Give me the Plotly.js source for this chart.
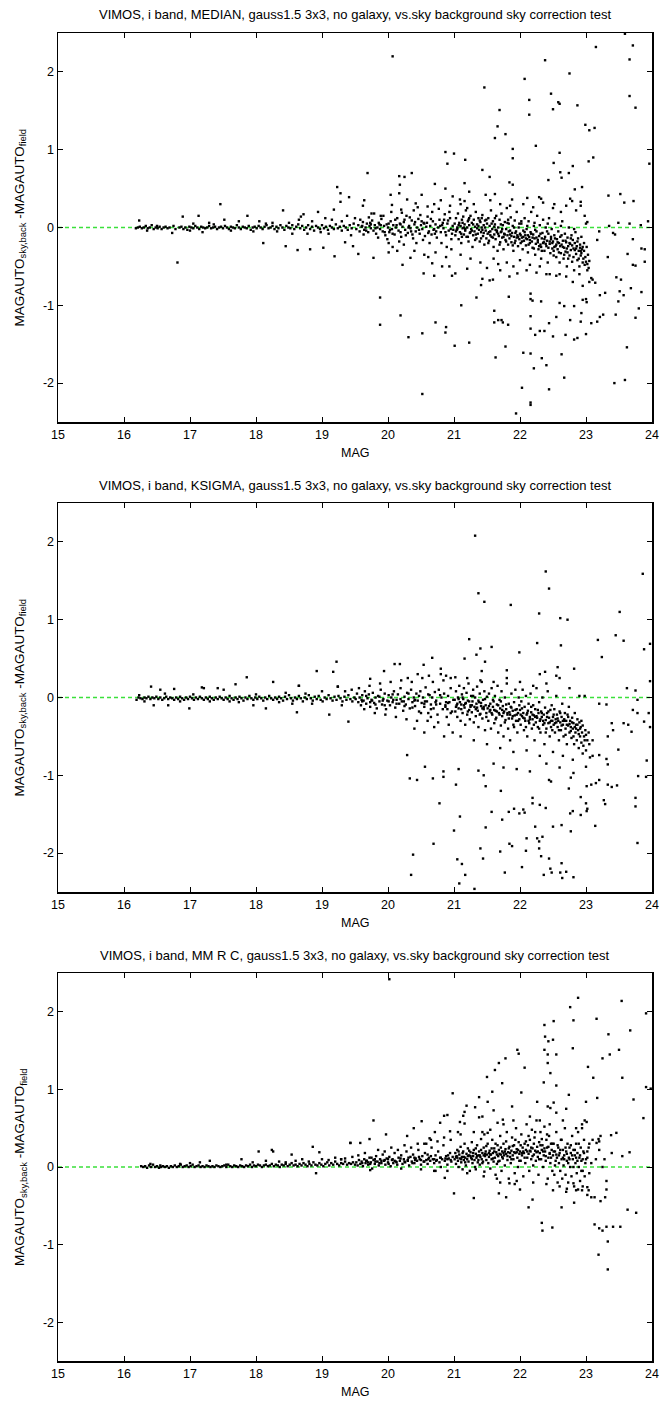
<!DOCTYPE html>
<html><head><meta charset="utf-8">
<script src="https://cdn.plot.ly/plotly-3.0.1.min.js"></script>
<style>html,body{margin:0;padding:0;background:#fff}#c{width:662px;height:1401px}</style>
</head><body><div id="c"></div>
<script>
// ---------- data: [MAG, MAGAUTO_sky,back - MAGAUTO_field] ----------
const titles = [
  "VIMOS, i band, MEDIAN, gauss1.5 3x3, no galaxy, vs.sky background sky correction test",
  "VIMOS, i band, KSIGMA, gauss1.5 3x3, no galaxy, vs.sky background sky correction test",
  "VIMOS, i band, MM R C, gauss1.5 3x3, no galaxy, vs.sky background sky correction test"
];
const xTickVals = [15,16,17,18,19,20,21,22,23,24];
const yTickVals = [-2,-1,0,1,2];
const yTickText = ["-2","-1","0","1","2"];

// ----- panel 1: MEDIAN -----
const median_bright = [[16.18,-0.01],[16.21,0.0],[16.24,0.01],[16.27,-0.01],[16.3,0.0],[16.33,0.02],[16.36,-0.01],[16.39,0.0],[16.42,0.03],[16.45,-0.02],[16.48,0.0],[16.51,-0.01],[16.54,0.01],[16.57,-0.02],[16.6,0.0],[16.63,0.01],[16.66,-0.01],[16.69,0.0],[16.75,0.02],[16.78,-0.02],[16.84,0.0],[16.87,0.01],[16.9,-0.02],[16.93,0.0],[16.96,-0.03],[16.99,0.01],[17.02,0.0],[17.05,-0.01],[17.08,0.02],[17.11,0.0],[17.14,-0.02],[17.17,0.01],[17.2,0.0],[17.23,-0.01],[17.26,0.0],[17.29,0.02],[17.32,-0.01],[17.35,0.0],[17.38,0.01],[17.41,-0.02],[17.44,0.0],[17.47,0.01],[17.5,-0.01],[17.53,0.02],[17.56,0.0],[17.59,-0.02],[17.62,0.01],[17.65,0.0],[17.68,-0.01],[17.71,0.03],[17.74,0.0],[17.77,-0.02],[17.8,0.01],[17.83,0.0],[17.86,-0.01],[17.89,0.02],[17.92,-0.03],[17.95,0.0],[17.98,0.01],[18.01,-0.01],[18.04,0.02],[18.07,0.0],[18.1,-0.02],[18.13,0.01],[18.16,0.03],[18.19,-0.01],[18.22,0.0],[18.25,0.02],[18.28,-0.02],[18.31,0.01],[18.34,-0.01],[18.37,0.03],[18.4,0.0],[18.43,-0.03],[18.46,0.02],[18.49,0.0],[18.52,-0.01],[18.55,0.03],[18.58,-0.02],[18.61,0.01],[18.64,0.04],[18.67,-0.01],[18.7,0.02],[18.73,-0.03],[18.76,0.0],[18.79,0.03],[18.82,-0.02],[18.85,0.01],[18.88,-0.04],[18.91,0.02],[18.94,0.0],[18.97,-0.02],[19.0,0.03],[19.03,-0.01],[19.06,0.01],[19.09,-0.03],[19.12,0.02],[19.15,0.0],[19.18,-0.02],[19.21,0.04],[19.24,-0.01],[19.27,0.01],[19.3,-0.04],[19.33,0.02],[19.36,0.0],[19.39,-0.03],[19.42,0.03],[19.45,-0.01],[19.48,0.05],
[16.23,0.09],[16.35,-0.04],[16.5,0.02],[16.73,-0.07],[16.89,0.14],[17.0,-0.04],[17.05,0.05],[17.13,0.15],[17.19,-0.06],[17.29,0.06],[17.36,0.04],[17.52,0.1],[17.62,-0.04],[17.74,0.08],[17.87,0.15],[17.96,-0.05],[18.05,0.08],[18.15,0.05],[18.25,0.06],[18.32,-0.05],[18.5,0.06],[18.55,-0.08],[18.65,0.1],[18.68,0.14],[18.72,0.17],[18.78,-0.08],[18.85,0.08],[18.98,-0.06],[19.05,0.12],[19.1,-0.08],[19.15,0.1],[19.3,0.08],[19.38,0.15],[19.44,-0.1],[19.5,0.12]];
const median_mid = [[19.52,-0.02],[19.55,0.03],[19.57,-0.05],[19.6,0.01],[19.62,0.07],[19.64,-0.03],[19.66,0.0],[19.68,0.05],[19.7,-0.06],[19.72,0.02],[19.74,-0.01],[19.76,0.09],[19.78,-0.04],[19.8,0.03],[19.82,-0.08],[19.84,0.0],[19.86,0.06],[19.88,-0.02],[19.9,0.11],[19.92,-0.05],[19.94,0.02],[19.96,-0.1],[19.98,0.04],[20.0,0.0],[20.02,-0.06],[20.04,0.08],[20.06,-0.02],[20.08,0.03],[20.1,-0.09],[20.12,0.0],[20.14,0.12],[20.16,-0.04],[20.18,0.05],[20.2,-0.12],[20.22,0.01],[20.24,0.07],[20.26,-0.03],[20.28,0.15],[20.3,-0.07],[20.32,0.02],[20.34,-0.01],[20.36,0.09],[20.38,-0.14],[20.4,0.04],[20.42,-0.05],[20.44,0.0],[20.46,0.11],[20.48,-0.08],[20.5,0.03],[20.52,-0.02],[20.54,0.06],[20.56,-0.11],[20.58,0.01],[20.6,0.14],[20.62,-0.05],[20.64,0.02],[20.66,-0.09],[20.68,0.08],[20.7,-0.02],[20.72,0.04],[20.74,-0.13],[20.76,0.0],[20.78,0.1],[20.8,-0.06],[20.82,0.03],[20.84,-0.01],[20.86,0.17],[20.88,-0.1],[20.9,0.05],[20.92,-0.04],[20.94,0.12],[20.96,-0.15],[20.98,0.02],
[19.58,0.1],[19.63,-0.09],[19.71,0.13],[19.79,0.18],[19.85,-0.13],[19.93,0.15],[19.99,-0.15],[20.05,0.2],[20.11,0.1],[20.17,-0.18],[20.21,0.19],[20.27,-0.1],[20.33,0.13],[20.39,0.22],[20.43,-0.2],[20.49,0.16],[20.53,-0.16],[20.59,0.06],[20.63,-0.2],[20.67,0.2],[20.71,-0.08],[20.77,0.24],[20.81,-0.2],[20.85,0.1],[20.89,-0.25],[20.93,0.2],[20.97,-0.08],[19.74,0.04],[19.89,0.03],[20.03,-0.03],[20.19,0.04],[20.35,-0.05],[20.51,0.08],[20.69,-0.03],[20.83,0.06],[20.99,-0.03],
[20.06,0.29],[20.2,0.23],[20.45,0.26],[20.6,0.27],[20.7,0.3],[20.8,0.35],[20.94,0.28],[19.62,0.28],[19.75,0.18],[19.89,0.15],[20.01,-0.2],[20.14,-0.3],[20.24,-0.22],[20.4,-0.3],[20.55,-0.35],[20.72,-0.32],[20.88,-0.38],[20.96,-0.28],
[19.61,0.02],[19.67,-0.04],[19.73,0.06],[19.81,-0.01],[19.87,0.04],[19.95,-0.06],[20.01,0.05],[20.07,-0.08],[20.13,0.03],[20.19,-0.06],[20.25,0.1],[20.31,0.0],[20.37,-0.09],[20.41,0.07],[20.47,-0.03],[20.55,0.05],[20.61,-0.07],[20.65,0.11],[20.73,-0.05],[20.79,0.02],[20.87,-0.06],[20.91,0.09],[20.95,-0.02]];
const median_faint = [[21.01,0.05],[21.02,-0.1],[21.03,0.12],[21.04,-0.03],[21.05,0.0],[21.06,0.18],[21.07,-0.15],[21.08,0.06],[21.09,-0.06],[21.1,0.02],[21.11,-0.2],[21.12,0.1],[21.13,-0.01],[21.14,0.14],[21.15,-0.09],[21.16,0.04],[21.17,-0.04],[21.18,0.22],[21.19,-0.12],[21.2,0.0],[21.21,0.08],[21.22,-0.18],[21.23,0.03],[21.24,-0.07],[21.25,0.15],[21.26,-0.02],[21.27,0.06],[21.28,-0.25],[21.29,-0.1],[21.3,0.1],[21.31,-0.05],[21.32,0.01],[21.33,0.2],[21.34,-0.14],[21.35,0.04],[21.36,-0.08],[21.37,0.12],[21.38,-0.03],[21.39,-0.18],[21.4,0.07],[21.41,-0.06],[21.42,0.0],[21.43,0.16],[21.44,-0.11],[21.45,0.03],[21.46,-0.22],[21.47,0.09],[21.48,-0.04],[21.49,-0.14],[21.5,0.05],
[21.51,-0.08],[21.52,0.12],[21.53,-0.17],[21.54,0.02],[21.55,-0.05],[21.56,0.22],[21.57,-0.12],[21.58,-0.02],[21.59,0.08],[21.6,-0.25],[21.61,-0.09],[21.62,0.04],[21.63,-0.15],[21.64,0.15],[21.65,-0.04],[21.66,-0.3],[21.67,0.0],[21.68,-0.11],[21.69,0.1],[21.7,-0.19],[21.71,-0.06],[21.72,0.18],[21.73,-0.13],[21.74,0.03],[21.75,-0.28],[21.76,-0.08],[21.77,0.07],[21.78,-0.16],[21.79,-0.02],[21.8,0.25],[21.81,-0.1],[21.82,-0.22],[21.83,0.05],[21.84,-0.14],[21.85,-0.04],[21.86,0.13],[21.87,-0.19],[21.88,-0.07],[21.89,0.02],[21.9,-0.3],[21.91,-0.12],[21.92,0.09],[21.93,-0.17],[21.94,-0.05],[21.95,0.2],[21.96,-0.1],[21.97,-0.24],[21.98,0.0],[21.99,-0.15],
[22.0,-0.08],[22.01,-0.2],[22.02,0.05],[22.03,-0.13],[22.04,-0.28],[22.05,-0.04],[22.06,-0.17],[22.07,0.12],[22.08,-0.1],[22.09,-0.23],[22.1,-0.02],[22.11,-0.15],[22.12,-0.32],[22.13,0.08],[22.14,-0.12],[22.15,-0.2],[22.16,-0.06],[22.17,0.2],[22.18,-0.18],[22.19,-0.26],[22.2,-0.09],[22.21,0.02],[22.22,-0.14],[22.23,-0.35],[22.24,-0.21],[22.25,-0.05],[22.26,0.15],[22.27,-0.16],[22.28,-0.28],[22.29,-0.11],[22.3,0.03],[22.31,-0.22],[22.32,-0.4],[22.33,-0.14],[22.34,-0.07],[22.35,0.1],[22.36,-0.19],[22.37,-0.3],[22.38,-0.12],[22.39,0.0],[22.4,-0.24],[22.41,-0.17],[22.42,-0.45],[22.43,-0.08],[22.44,0.12],[22.45,-0.21],[22.46,-0.33],[22.47,-0.15],[22.48,-0.02],[22.49,-0.27],
[22.5,-0.18],[22.51,-0.3],[22.52,-0.1],[22.53,0.05],[22.54,-0.24],[22.55,-0.38],[22.56,-0.15],[22.57,-0.28],[22.58,-0.05],[22.59,-0.2],[22.6,-0.45],[22.61,-0.12],[22.62,-0.33],[22.63,-0.22],[22.64,0.08],[22.65,-0.17],[22.66,-0.4],[22.67,-0.26],[22.68,-0.08],[22.69,-0.31],[22.7,-0.19],[22.71,-0.5],[22.72,-0.13],[22.73,-0.24],[22.74,0.0],[22.75,-0.36],[22.76,-0.21],[22.77,-0.29],[22.78,-0.1],[22.79,-0.44],[22.8,-0.16],[22.81,-0.27],[22.82,-0.55],[22.83,-0.2],[22.84,-0.06],[22.85,-0.34],[22.86,-0.24],[22.87,-0.42],[22.88,-0.14],[22.89,-0.3],[22.9,-0.5],[22.91,-0.22],[22.92,-0.36],[22.93,-0.12],[22.94,-0.28],[22.95,-0.45],[22.96,-0.4],[22.97,-0.2],[22.98,-0.48],[23.0,-0.44],[23.02,-0.47],[23.05,-0.43],
[21.05,-0.02],[21.15,0.0],[21.25,-0.06],[21.35,-0.01],[21.45,-0.07],[21.55,-0.1],[21.65,-0.06],[21.75,-0.12],[21.85,-0.09],[21.95,-0.13],[22.05,-0.12],[22.15,-0.16],[22.25,-0.13],[22.35,-0.2],[22.45,-0.18],[22.55,-0.22],[22.65,-0.25],[22.75,-0.2],[22.85,-0.27],[22.95,-0.25],
[21.12,-0.12],[21.32,-0.16],[21.52,-0.2],[21.72,-0.05],[21.92,-0.2],[22.12,-0.1],[22.32,-0.25],[22.52,-0.25],[22.72,-0.32],[22.92,-0.3],
[21.22,0.1],[21.42,0.12],[21.62,0.12],[21.82,0.1],[22.02,0.08],[22.22,0.06],[22.42,0.05],[22.62,0.02],[22.82,-0.02],
[21.1,0.3],[21.2,0.25],[21.3,0.3],[21.55,0.35],[21.7,0.3],[21.85,0.28],[22.05,0.3],[22.2,0.26],[22.35,0.32],[22.5,0.25],[22.62,0.2],[22.7,0.28],[22.85,0.22],[22.98,0.15],[23.0,0.05],
[21.1,-0.35],[21.25,-0.4],[21.4,-0.45],[21.5,-0.52],[21.6,-0.4],[21.7,-0.55],[21.8,-0.45],[21.9,-0.5],[22.0,-0.42],[22.1,-0.55],[22.15,-0.48],[22.25,-0.58],[22.3,-0.5],[22.4,-0.6],[22.45,-0.6],[22.55,-0.62],[22.6,-0.6],[22.7,-0.63],[22.8,-0.7],[22.9,-0.6],[22.95,-0.75],[23.02,-0.55],[23.05,-0.7],[23.08,-0.65],
[21.03,-0.05],[21.07,0.03],[21.11,-0.08],[21.13,0.06],[21.17,-0.02],[21.21,-0.12],[21.23,0.12],[21.27,-0.04],[21.29,0.04],[21.33,-0.09],[21.37,0.02],[21.39,0.09],[21.41,-0.14],[21.43,-0.03],[21.47,0.0],[21.49,0.1],[21.53,-0.06],[21.57,0.05],[21.59,-0.13],[21.61,0.01],[21.63,-0.03],[21.67,-0.08],[21.69,-0.22],[21.71,0.04],[21.73,-0.02],[21.77,-0.09],[21.79,-0.18],[21.81,0.06],[21.83,-0.05],[21.87,-0.11],[21.89,-0.23],[21.91,0.0],[21.93,-0.07],[21.97,-0.12],[21.99,0.05],[22.01,-0.1],[22.03,-0.18],[22.07,-0.06],[22.09,-0.14],[22.11,0.02],[22.13,-0.22],[22.17,-0.08],[22.19,-0.13],[22.21,-0.27],[22.23,-0.03],[22.27,-0.19],[22.29,-0.24],[22.31,-0.08],[22.33,-0.3],[22.37,-0.15],[22.39,-0.21],[22.41,-0.05],[22.43,-0.26],[22.47,-0.12],[22.49,-0.2],[22.51,-0.36],[22.53,-0.14],[22.57,-0.19],[22.59,-0.32],[22.61,-0.24],[22.63,-0.1],[22.67,-0.35],[22.69,-0.17],[22.71,-0.27],[22.73,-0.4],[22.77,-0.14],[22.79,-0.23],[22.81,-0.38],[22.83,-0.29],[22.87,-0.18],[22.89,-0.4],[22.91,-0.26],[22.93,-0.33],[22.97,-0.3],[22.99,-0.38],[23.03,-0.35],[23.04,-0.52],[23.01,-0.25]];
const median_out = [[20.07,2.20],[23.59,2.49],[23.71,2.34],[23.15,2.32],[22.38,2.15],[23.66,2.16],[22.75,1.98],[22.07,1.91],[21.46,1.80],[22.47,1.72],[22.14,1.64],[23.66,1.69],[22.60,1.59],[22.58,1.61],[22.87,1.57],[22.50,1.52],[23.75,1.54],[21.69,1.51],[22.14,1.45],[21.66,1.30],[22.99,1.32],[23.05,1.25],[23.13,1.28],[21.78,1.20],[21.62,1.15],[22.24,1.05],[21.89,1.01],[20.87,0.97],[21.00,0.95],[22.60,0.96],[23.11,0.90],[21.89,0.89],[20.90,0.82],[23.04,0.85],[22.51,0.83],[23.96,0.82],[21.17,0.87],[22.80,0.79],[21.43,0.74],[19.69,0.70],[20.36,0.70],[22.61,0.71],[22.74,0.70],[20.17,0.66],[20.25,0.65],[21.54,0.65],[22.43,0.61],[22.63,0.64],[21.16,0.57],[20.71,0.56],[19.23,0.52],[21.84,0.58],[21.89,0.55],[22.94,0.52],[20.87,0.50],[20.18,0.55],[19.28,0.44],[22.83,0.49],[21.23,0.46],[23.34,0.41],[23.52,0.43],[19.41,0.39],[20.04,0.42],[20.17,0.44],[20.51,0.42],[20.98,0.40],[21.48,0.42],[21.62,0.43],[17.46,0.30],[22.11,0.38],[22.29,0.39],[23.72,0.34],[23.58,0.32],[22.76,0.37],[22.79,0.34],[22.92,0.33],[20.29,0.36],[21.09,0.36],[21.16,0.34],[21.88,0.36],[22.32,0.37],[22.52,0.30],[22.92,0.28],[18.41,0.22],[19.18,0.23],[19.64,0.35],[18.94,0.20],[19.28,0.33],[20.42,0.31],
[16.81,-0.45],[18.11,-0.20],[18.45,-0.24],[18.63,-0.29],[18.82,-0.28],[19.02,-0.26],[19.19,-0.37],[19.35,-0.19],[19.47,-0.24],[19.55,-0.34],[19.78,-0.39],[20.01,-0.32],[20.07,-0.25],[20.22,-0.48],[20.34,-0.39],[20.54,-0.59],[20.70,-0.62],[20.82,-0.50],[20.93,-0.50],[20.97,-0.62],[21.02,-0.59],[21.20,-0.53],[20.67,-0.46],[20.61,-0.38],[19.88,-0.90],[19.88,-1.25],[20.19,-1.13],[20.31,-1.41],[20.52,-1.36],[20.52,-2.14],[20.72,-1.22],[20.88,-1.28],[20.87,-1.35],[21.01,-1.52],[21.11,-1.00],[21.23,-1.48],[21.34,-0.90],[21.41,-0.74],[21.43,-0.66],[21.61,-1.07],[21.61,-1.22],[21.67,-1.19],[21.72,-1.19],[21.74,-1.22],[21.78,-1.53],[21.63,-1.67],[21.82,-1.25],[21.83,-0.89],[21.54,-0.68],[21.59,-0.67],[21.67,-0.47],[21.84,-0.63],[21.96,-0.59],[22.05,-1.61],[21.94,-2.39],[22.03,-2.06],[22.16,-2.25],[22.16,-2.28],[22.21,-1.81],[22.16,-1.62],[22.16,-1.30],[22.23,-1.38],[22.16,-1.14],[22.16,-0.92],[22.19,-0.94],[22.16,-0.85],[22.32,-0.95],[22.37,-1.33],[22.30,-1.33],[22.33,-1.68],[22.40,-1.77],[22.44,-2.08],[22.50,-1.40],[22.55,-1.15],[22.44,-1.23],[22.63,-1.63],[22.60,-0.97],[22.69,-1.38],[22.67,-1.01],[22.82,-1.44],[22.87,-1.42],[22.67,-1.93],[22.76,-1.19],[22.82,-1.01],[22.93,-1.10],[22.95,-0.93],[23.00,-0.92],[23.01,-0.96],[22.92,-1.21],[23.00,-1.37],[23.08,-1.23],[23.17,-1.21],[23.21,-1.15],[23.26,-1.12],[23.21,-0.87],[23.29,-0.84],[23.10,-0.67],[23.14,-0.71],[23.43,-2.00],[23.59,-1.96],[23.62,-1.54],[23.45,-1.12],[23.49,-0.95],[23.51,-0.82],[23.46,-0.64],[23.53,-0.67],[23.57,-0.87],[23.68,-0.78],[23.84,-0.83],[23.75,-1.16],[23.80,-1.04],[23.75,-0.49],[23.71,-0.48],[23.89,-0.44],[23.84,-0.27],[23.89,-0.28],[23.71,-0.15],[23.63,-0.34],[23.33,-0.38],[23.17,-0.16],[23.20,-0.05],[23.41,-0.07],[23.44,-0.09],[23.49,0.06],[23.66,0.05],[23.83,0.03],[23.94,0.08],[23.35,0.02],[23.02,0.07]];

// ----- panel 2: KSIGMA -----
const ksigma_bright = [[16.19,-0.03],[16.22,0.0],[16.25,-0.01],[16.28,-0.02],[16.31,0.0],[16.34,-0.01],[16.37,0.01],[16.4,-0.02],[16.43,0.0],[16.46,-0.01],[16.49,0.01],[16.52,-0.02],[16.55,0.0],[16.58,-0.03],[16.61,-0.01],[16.64,0.01],[16.67,-0.02],[16.7,0.0],[16.73,-0.01],[16.76,-0.03],[16.79,0.0],[16.82,-0.02],[16.85,0.01],[16.88,-0.01],[16.91,-0.03],[16.94,0.0],[16.97,-0.02],[17.0,0.01],[17.03,-0.01],[17.06,-0.03],[17.09,0.0],[17.12,-0.02],[17.15,0.01],[17.18,-0.01],[17.21,-0.03],[17.24,0.0],[17.27,-0.02],[17.3,0.01],[17.33,-0.01],[17.36,-0.03],[17.39,0.0],[17.42,-0.02],[17.45,0.01],[17.48,-0.01],[17.51,-0.03],[17.54,0.0],[17.57,-0.02],[17.6,0.02],[17.63,-0.01],[17.66,-0.03],[17.69,0.0],[17.72,-0.02],[17.75,0.01],[17.78,-0.01],[17.81,-0.04],[17.84,0.0],[17.87,-0.02],[17.9,0.02],[17.93,-0.01],[17.96,-0.03],[17.99,0.0],[18.02,-0.02],[18.05,0.01],[18.08,-0.01],[18.11,-0.04],[18.14,0.0],[18.17,-0.02],[18.2,0.02],[18.23,-0.01],[18.26,-0.03],[18.29,0.0],[18.32,-0.02],[18.35,0.01],[18.38,-0.01],[18.41,-0.04],[18.44,0.01],[18.47,-0.02],[18.5,0.03],[18.53,-0.01],[18.56,-0.04],[18.59,0.0],[18.62,-0.02],[18.65,0.02],[18.68,-0.01],[18.71,-0.05],[18.74,0.0],[18.77,-0.02],[18.8,0.03],[18.83,-0.01],[18.86,-0.04],[18.89,0.01],[18.92,-0.02],[18.95,0.02],[18.98,-0.03],[19.01,-0.05],[19.04,0.0],[19.07,-0.02],[19.1,0.03],[19.13,-0.01],[19.16,-0.04],[19.19,0.01],[19.22,-0.03],[19.25,0.02],[19.28,-0.01],[19.31,-0.05],[19.34,0.01],[19.37,-0.03],[19.4,0.03],[19.43,-0.02],[19.46,-0.05],[19.49,0.0],
[16.23,0.03],[16.31,-0.05],[16.41,0.14],[16.45,-0.1],[16.55,0.1],[16.62,0.05],[16.67,-0.1],[16.76,0.11],[16.85,-0.05],[16.99,-0.14],[17.05,0.04],[17.18,0.13],[17.21,0.12],[17.3,-0.05],[17.42,0.12],[17.51,0.1],[17.6,-0.05],[17.69,0.17],[17.74,-0.06],[17.86,0.26],[17.96,-0.1],[18.0,0.04],[18.15,-0.14],[18.26,0.2],[18.35,-0.06],[18.45,0.06],[18.55,-0.08],[18.62,-0.19],[18.65,0.15],[18.75,0.05],[18.85,-0.08],[18.92,0.34],[19.0,0.08],[19.11,-0.22],[19.17,0.33],[19.22,0.46],[19.24,0.14],[19.3,-0.1],[19.35,0.08],[19.4,-0.31],[19.45,0.1]];
const ksigma_mid = [[19.51,-0.02],[19.53,0.05],[19.55,-0.06],[19.57,0.0],[19.59,-0.1],[19.61,0.03],[19.63,-0.04],[19.65,0.08],[19.67,-0.08],[19.69,-0.01],[19.71,0.04],[19.73,-0.12],[19.75,-0.03],[19.77,0.06],[19.79,-0.07],[19.81,0.0],[19.83,-0.14],[19.85,0.02],[19.87,-0.05],[19.89,0.1],[19.91,-0.09],[19.93,-0.02],[19.95,0.05],[19.97,-0.15],[19.99,-0.04],[20.01,0.03],[20.03,-0.1],[20.05,0.0],[20.07,-0.06],[20.09,0.08],[20.11,-0.13],[20.13,-0.03],[20.15,0.04],[20.17,-0.08],[20.19,0.12],[20.21,-0.05],[20.23,-0.17],[20.25,0.01],[20.27,-0.09],[20.29,0.06],[20.31,-0.02],[20.33,-0.14],[20.35,0.1],[20.37,-0.06],[20.39,0.0],[20.41,-0.11],[20.43,0.05],[20.45,-0.04],[20.47,-0.18],[20.49,0.08],[20.51,-0.07],[20.53,0.0],[20.55,-0.12],[20.57,0.13],[20.59,-0.05],[20.61,-0.2],[20.63,0.03],[20.65,-0.09],[20.67,0.0],[20.69,-0.14],[20.71,0.07],[20.73,-0.04],[20.75,-0.22],[20.77,0.1],[20.79,-0.08],[20.81,0.0],[20.83,-0.15],[20.85,0.05],[20.87,-0.1],[20.89,-0.25],[20.91,0.02],[20.93,-0.06],[20.95,0.12],[20.97,-0.18],[20.99,-0.03],
[19.56,0.12],[19.64,-0.15],[19.72,0.15],[19.8,-0.2],[19.88,0.18],[19.96,-0.22],[20.04,0.2],[20.12,-0.25],[20.2,0.22],[20.28,-0.28],[20.36,0.2],[20.44,-0.3],[20.52,0.25],[20.6,-0.3],[20.68,0.2],[20.76,-0.32],[20.84,0.22],[20.92,-0.35],[19.6,-0.03],[19.76,-0.04],[19.92,-0.04],[20.08,-0.03],[20.24,-0.05],[20.4,-0.04],[20.56,-0.05],[20.72,-0.06],[20.88,-0.06],[20.3,0.25],[20.45,0.3],[20.62,0.28],[20.8,0.3],[20.95,0.25],[20.4,-0.4],[20.55,-0.45],[20.7,-0.38],[20.85,-0.5],[20.98,-0.45],[20.5,-0.2],[20.65,-0.25],[20.9,-0.15],
[19.61,-0.05],[19.67,0.02],[19.73,-0.06],[19.81,-0.09],[19.87,0.01],[19.95,-0.1],[20.01,-0.05],[20.07,0.04],[20.13,-0.08],[20.19,-0.02],[20.25,-0.11],[20.31,0.05],[20.37,-0.13],[20.41,-0.03],[20.47,0.02],[20.55,-0.08],[20.61,0.04],[20.65,-0.15],[20.73,-0.09],[20.79,0.03],[20.87,-0.12],[20.91,-0.07],[20.95,-0.2]];
const ksigma_faint = [[21.01,-0.03],[21.02,-0.18],[21.03,0.08],[21.04,-0.1],[21.05,-0.25],[21.06,0.0],[21.07,-0.14],[21.08,0.15],[21.09,-0.06],[21.1,-0.3],[21.11,-0.09],[21.12,0.04],[21.13,-0.2],[21.14,-0.02],[21.15,0.12],[21.16,-0.13],[21.17,-0.35],[21.18,-0.07],[21.19,0.06],[21.2,-0.22],[21.21,-0.04],[21.22,0.18],[21.23,-0.16],[21.24,-0.28],[21.25,-0.1],[21.26,0.02],[21.27,-0.19],[21.28,-0.05],[21.29,0.1],[21.3,-0.32],[21.31,-0.12],[21.32,0.0],[21.33,-0.24],[21.34,-0.08],[21.35,0.14],[21.36,-0.17],[21.37,-0.38],[21.38,-0.06],[21.39,0.05],[21.4,-0.21],[21.41,-0.11],[21.42,0.2],[21.43,-0.27],[21.44,-0.03],[21.45,-0.15],[21.46,0.08],[21.47,-0.42],[21.48,-0.1],[21.49,-0.2],[21.5,0.01],
[21.51,-0.14],[21.52,-0.3],[21.53,0.05],[21.54,-0.18],[21.55,-0.08],[21.56,-0.4],[21.57,0.12],[21.58,-0.22],[21.59,-0.12],[21.6,-0.05],[21.61,-0.33],[21.62,0.02],[21.63,-0.17],[21.64,-0.26],[21.65,-0.09],[21.66,0.15],[21.67,-0.45],[21.68,-0.2],[21.69,-0.03],[21.7,-0.14],[21.71,-0.36],[21.72,0.08],[21.73,-0.24],[21.74,-0.11],[21.75,-0.5],[21.76,-0.18],[21.77,0.0],[21.78,-0.29],[21.79,-0.15],[21.8,0.18],[21.81,-0.22],[21.82,-0.4],[21.83,-0.08],[21.84,-0.19],[21.85,-0.55],[21.86,-0.12],[21.87,0.05],[21.88,-0.27],[21.89,-0.17],[21.9,-0.35],[21.91,-0.06],[21.92,-0.23],[21.93,0.1],[21.94,-0.3],[21.95,-0.15],[21.96,-0.45],[21.97,-0.2],[21.98,0.0],[21.99,-0.28],
[22.0,-0.16],[22.01,-0.35],[22.02,-0.05],[22.03,-0.24],[22.04,0.1],[22.05,-0.2],[22.06,-0.42],[22.07,-0.12],[22.08,-0.3],[22.09,0.02],[22.1,-0.22],[22.11,-0.5],[22.12,-0.17],[22.13,-0.08],[22.14,-0.33],[22.15,-0.25],[22.16,0.05],[22.17,-0.19],[22.18,-0.4],[22.19,-0.28],[22.2,-0.1],[22.21,-0.23],[22.22,-0.55],[22.23,-0.15],[22.24,-0.32],[22.25,0.12],[22.26,-0.26],[22.27,-0.38],[22.28,-0.2],[22.29,-0.06],[22.3,-0.3],[22.31,-0.45],[22.32,-0.18],[22.33,-0.25],[22.34,0.0],[22.35,-0.35],[22.36,-0.22],[22.37,-0.6],[22.38,-0.13],[22.39,-0.29],[22.4,-0.4],[22.41,-0.2],[22.42,0.08],[22.43,-0.33],[22.44,-0.26],[22.45,-0.5],[22.46,-0.16],[22.47,-0.3],[22.48,-0.1],[22.49,-0.42],
[22.5,-0.25],[22.51,-0.35],[22.52,-0.15],[22.53,-0.45],[22.54,-0.28],[22.55,0.02],[22.56,-0.22],[22.57,-0.38],[22.58,-0.3],[22.59,-0.55],[22.6,-0.18],[22.61,-0.32],[22.62,-0.42],[22.63,-0.25],[22.64,-0.08],[22.65,-0.35],[22.66,-0.5],[22.67,-0.28],[22.68,-0.2],[22.69,-0.4],[22.7,-0.3],[22.71,-0.6],[22.72,-0.22],[22.73,-0.36],[22.74,-0.12],[22.75,-0.45],[22.76,-0.3],[22.77,-0.38],[22.78,-0.52],[22.79,-0.26],[22.8,-0.4],[22.81,-0.33],[22.82,-0.6],[22.83,-0.2],[22.84,-0.45],[22.85,-0.35],[22.86,-0.55],[22.87,-0.28],[22.88,-0.42],[22.89,-0.65],[22.9,-0.32],[22.91,-0.5],[22.92,-0.38],[22.93,-0.58],[22.94,-0.45],[22.96,-0.62],[22.98,-0.55],[23.0,-0.48],
[21.05,-0.08],[21.15,-0.1],[21.25,-0.12],[21.35,-0.13],[21.45,-0.12],[21.55,-0.16],[21.65,-0.18],[21.75,-0.2],[21.85,-0.22],[21.95,-0.22],[22.05,-0.26],[22.15,-0.28],[22.25,-0.24],[22.35,-0.3],[22.45,-0.32],[22.55,-0.32],[22.65,-0.3],[22.75,-0.34],[22.85,-0.4],[22.95,-0.36],[21.2,0.25],[21.4,0.22],[21.6,0.2],[21.8,0.25],[22.0,0.2],[22.2,0.15],[22.4,0.18],[22.6,0.25],[22.75,0.12],[22.9,0.02],[21.1,-0.5],[21.3,-0.55],[21.5,-0.6],[21.7,-0.65],[21.9,-0.7],[22.1,-0.68],[22.3,-0.75],[22.5,-0.7],[22.65,-0.75],[22.8,-0.8],[22.95,-0.72],[23.05,-0.6],[23.1,-0.55],[23.0,-0.68],[21.6,-0.85],[21.75,-0.9],[21.95,-0.92],[22.15,-0.95],[22.4,-0.85],[22.6,-0.9],[21.8,0.35],[22.3,0.3],[22.55,0.28],
[21.03,-0.12],[21.07,-0.02],[21.11,-0.15],[21.13,0.0],[21.17,-0.08],[21.21,-0.18],[21.23,-0.05],[21.27,-0.1],[21.29,0.02],[21.33,-0.15],[21.37,-0.04],[21.39,-0.22],[21.41,-0.07],[21.43,-0.14],[21.47,-0.02],[21.49,-0.25],[21.53,-0.11],[21.57,-0.2],[21.59,-0.03],[21.61,-0.16],[21.63,-0.28],[21.67,-0.1],[21.69,-0.22],[21.71,-0.05],[21.73,-0.16],[21.77,-0.32],[21.79,-0.09],[21.81,-0.2],[21.83,-0.27],[21.87,-0.13],[21.89,-0.24],[21.91,-0.38],[21.93,-0.16],[21.97,-0.3],[21.99,-0.1],[22.01,-0.22],[22.03,-0.14],[22.07,-0.27],[22.09,-0.38],[22.11,-0.2],[22.13,-0.3],[22.17,-0.12],[22.19,-0.22],[22.21,-0.35],[22.23,-0.25],[22.27,-0.16],[22.29,-0.4],[22.31,-0.28],[22.33,-0.2],[22.37,-0.33],[22.39,-0.45],[22.41,-0.25],[22.43,-0.18],[22.47,-0.38],[22.49,-0.3],[22.51,-0.22],[22.53,-0.33],[22.57,-0.27],[22.59,-0.42],[22.61,-0.2],[22.63,-0.36],[22.67,-0.3],[22.69,-0.48],[22.71,-0.35],[22.73,-0.25],[22.77,-0.43],[22.79,-0.32],[22.81,-0.5],[22.83,-0.38],[22.87,-0.35],[22.89,-0.47],[22.91,-0.4],[22.93,-0.3],[22.97,-0.5],[22.99,-0.42],[23.02,-0.55],[23.04,-0.45]];
const ksigma_out = [[21.32,2.08],[22.39,1.62],[22.44,1.40],[21.37,1.34],[21.46,1.23],[21.86,1.19],[23.51,1.10],[22.29,1.08],[22.61,1.02],[22.72,1.00],[23.86,1.59],[23.45,0.80],[23.18,0.74],[23.57,0.73],[21.23,0.75],[22.26,0.70],[22.62,0.67],[21.57,0.65],[21.40,0.63],[23.88,0.62],[23.97,0.69],[21.34,0.55],[21.99,0.58],[23.24,0.52],[20.67,0.51],[21.16,0.50],[21.47,0.46],[20.54,0.42],[20.10,0.43],[20.18,0.43],[21.42,0.34],[22.38,0.33],[22.57,0.39],[19.94,0.34],[22.82,0.37],[20.80,0.37],[20.88,0.28],[21.02,0.26],[23.97,0.21],[23.62,0.12],[23.75,0.09],[19.73,0.24],[18.65,0.15],[19.24,0.14],
[20.29,-0.74],[20.33,-1.04],[20.44,-1.06],[20.38,-2.02],[20.35,-2.28],[20.56,-0.89],[20.68,-1.04],[20.84,-0.95],[20.84,-1.02],[20.69,-1.88],[20.78,-1.36],[21.00,-1.71],[21.05,-2.08],[21.12,-2.14],[21.08,-2.39],[21.17,-2.28],[21.31,-2.46],[21.03,-1.12],[21.09,-1.53],[21.07,-0.92],[21.40,-1.94],[21.44,-2.07],[21.48,-1.14],[21.48,-1.67],[21.37,-0.94],[21.45,-1.00],[21.57,-1.47],[21.70,-1.98],[21.71,-1.20],[21.73,-1.57],[21.77,-2.25],[21.83,-1.47],[21.91,-1.43],[21.84,-1.88],[21.88,-1.91],[21.99,-1.49],[22.05,-1.44],[22.07,-1.48],[22.03,-2.18],[22.09,-1.97],[22.10,-1.81],[22.19,-1.29],[22.19,-1.36],[22.23,-1.66],[22.26,-1.81],[22.29,-1.85],[22.34,-1.79],[22.29,-1.94],[22.32,-2.04],[22.36,-2.28],[22.44,-2.07],[22.46,-2.20],[22.48,-2.25],[22.39,-1.42],[22.44,-1.06],[22.47,-1.08],[22.30,-1.38],[22.50,-1.66],[22.63,-1.64],[22.61,-2.25],[22.64,-2.32],[22.63,-2.13],[22.70,-2.24],[22.81,-2.31],[22.76,-1.49],[22.80,-1.46],[22.77,-1.72],[22.74,-1.17],[22.77,-1.03],[22.81,-0.97],[22.92,-1.51],[22.92,-1.28],[23.00,-1.36],[23.01,-1.46],[23.02,-1.43],[23.01,-1.14],[23.08,-1.12],[23.15,-1.10],[23.20,-1.06],[23.14,-1.65],[23.27,-1.32],[23.29,-1.37],[23.00,-0.89],[23.06,-0.77],[23.10,-0.75],[23.20,-0.74],[23.31,-0.79],[23.33,-0.86],[23.33,-1.12],[23.39,-1.15],[23.47,-1.13],[23.49,-0.67],[23.33,-0.50],[23.39,-0.33],[23.41,-0.42],[23.64,-0.35],[23.69,-0.44],[23.57,-0.33],[23.71,-0.16],[23.78,-0.20],[23.88,-0.31],[23.75,-1.29],[23.75,-1.40],[23.79,-1.01],[23.91,-1.02],[23.78,-1.87],[23.92,-0.81],[23.97,-0.38],[23.95,-0.20],[23.78,-0.03],[23.20,-0.08],[23.31,-0.09],[22.98,0.02]];

// ----- panel 3: MM R C -----
const mmrc_bright = [[16.26,0.01],[16.29,0.0],[16.32,0.01],[16.35,-0.01],[16.38,0.02],[16.41,0.0],[16.44,0.03],[16.47,0.0],[16.5,0.01],[16.53,-0.01],[16.56,0.0],[16.59,0.01],[16.62,0.0],[16.65,0.01],[16.68,-0.01],[16.71,0.01],[16.74,0.0],[16.77,0.02],[16.8,0.0],[16.83,0.01],[16.86,0.03],[16.89,0.0],[16.92,0.01],[16.95,0.02],[16.98,0.0],[17.01,0.01],[17.04,0.03],[17.07,0.0],[17.1,0.01],[17.13,0.02],[17.16,0.0],[17.19,0.01],[17.22,0.0],[17.25,0.02],[17.28,0.01],[17.31,0.0],[17.34,0.01],[17.37,0.0],[17.4,0.02],[17.43,0.01],[17.46,0.0],[17.49,0.01],[17.52,0.02],[17.55,0.0],[17.58,0.03],[17.61,0.01],[17.64,0.0],[17.67,0.02],[17.7,0.01],[17.73,0.0],[17.76,0.02],[17.79,0.01],[17.82,0.0],[17.85,0.02],[17.88,0.01],[17.91,0.03],[17.94,0.0],[17.97,0.02],[18.0,0.01],[18.03,0.03],[18.06,0.02],[18.09,0.0],[18.12,0.02],[18.15,0.03],[18.18,0.01],[18.21,0.02],[18.24,0.04],[18.27,0.01],[18.3,0.03],[18.33,0.02],[18.36,0.0],[18.39,0.03],[18.42,0.02],[18.45,0.04],[18.48,0.01],[18.51,0.03],[18.54,0.05],[18.57,0.02],[18.6,0.03],[18.63,0.01],[18.66,0.04],[18.69,0.02],[18.72,0.05],[18.75,0.03],[18.78,0.01],[18.81,0.04],[18.84,0.02],[18.87,0.06],[18.9,0.03],[18.93,0.02],[18.96,0.05],[18.99,0.03],[19.02,0.01],[19.05,0.04],[19.08,0.06],[19.11,0.02],[19.14,0.05],[19.17,0.03],[19.2,0.07],[19.23,0.04],[19.26,0.02],[19.29,0.05],[19.32,0.04],[19.35,0.07],[19.38,0.03],[19.41,0.05],[19.44,0.04],[19.47,0.06],[19.5,0.03],
[16.4,0.04],[16.55,0.02],[16.85,0.04],[17.0,0.05],[17.15,0.06],[17.3,0.08],[17.55,0.03],[17.78,0.1],[17.95,0.06],[18.04,0.2],[18.15,0.08],[18.24,0.22],[18.26,0.2],[18.35,0.07],[18.54,0.16],[18.6,0.08],[18.7,0.1],[18.86,0.26],[18.91,-0.08],[18.96,0.19],[19.0,0.1],[19.1,0.09],[19.2,0.12],[19.29,0.1],[19.35,0.11],[19.43,0.31],[19.46,0.13],[18.8,0.07],[18.45,0.06]];
const mmrc_mid = [[19.52,0.06],[19.54,0.02],[19.56,0.09],[19.58,0.04],[19.6,0.07],[19.62,0.01],[19.64,0.1],[19.66,0.05],[19.68,0.08],[19.7,0.03],[19.72,0.12],[19.74,0.06],[19.76,-0.02],[19.78,0.09],[19.8,0.04],[19.82,0.14],[19.84,0.07],[19.86,0.02],[19.88,0.1],[19.9,0.05],[19.92,0.16],[19.94,0.08],[19.96,0.03],[19.98,0.11],[20.0,0.06],[20.02,0.13],[20.04,0.01],[20.06,0.09],[20.08,0.05],[20.1,0.18],[20.12,0.07],[20.14,0.03],[20.16,0.12],[20.18,0.08],[20.2,0.15],[20.22,0.04],[20.24,0.1],[20.26,0.06],[20.28,0.2],[20.3,0.09],[20.32,0.02],[20.34,0.13],[20.36,0.07],[20.38,0.16],[20.4,0.05],[20.42,0.11],[20.44,0.08],[20.46,0.22],[20.48,0.1],[20.5,0.03],[20.52,0.14],[20.54,0.07],[20.56,0.18],[20.58,0.09],[20.6,0.04],[20.62,0.12],[20.64,0.08],[20.66,0.25],[20.68,0.1],[20.7,0.05],[20.72,0.15],[20.74,0.09],[20.76,0.2],[20.78,0.06],[20.8,0.12],[20.82,0.1],[20.84,0.28],[20.86,0.08],[20.88,0.14],[20.9,0.03],[20.92,0.11],[20.94,0.18],[20.96,0.07],[20.98,0.13],
[19.55,0.15],[19.65,0.18],[19.75,0.12],[19.85,0.22],[19.95,0.2],[20.05,0.25],[20.15,0.22],[20.25,0.28],[20.35,0.25],[20.45,0.3],[20.55,0.3],[20.65,0.35],[20.75,0.33],[20.85,0.38],[20.95,0.35],[19.7,0.06],[19.9,0.08],[20.1,0.08],[20.3,0.08],[20.5,0.09],[20.7,0.1],[20.9,0.1],[20.2,-0.02],[20.5,-0.03],[20.8,0.0],[20.6,0.16],[20.4,0.12],[20.0,0.1],[19.8,0.1],[20.9,-0.05],[20.7,-0.05],
[19.61,0.05],[19.67,0.08],[19.73,0.04],[19.81,0.07],[19.87,0.05],[19.95,0.09],[20.01,0.04],[20.07,0.1],[20.13,0.06],[20.19,0.11],[20.25,0.07],[20.31,0.12],[20.37,0.05],[20.41,0.09],[20.47,0.13],[20.55,0.07],[20.61,0.1],[20.65,0.14],[20.73,0.08],[20.79,0.12],[20.87,0.11],[20.91,0.15],[20.95,0.09]];
const mmrc_faint = [[21.01,0.1],[21.02,0.18],[21.03,0.04],[21.04,0.14],[21.05,0.22],[21.06,0.08],[21.07,0.0],[21.08,0.16],[21.09,0.11],[21.1,0.26],[21.11,0.06],[21.12,0.13],[21.13,-0.03],[21.14,0.2],[21.15,0.09],[21.16,0.3],[21.17,0.12],[21.18,0.02],[21.19,0.17],[21.2,0.1],[21.21,0.24],[21.22,0.07],[21.23,0.15],[21.24,-0.05],[21.25,0.19],[21.26,0.12],[21.27,0.32],[21.28,0.05],[21.29,0.14],[21.3,0.22],[21.31,0.09],[21.32,0.0],[21.33,0.17],[21.34,0.12],[21.35,0.28],[21.36,0.06],[21.37,0.15],[21.38,0.2],[21.39,0.03],[21.4,0.13],[21.41,0.36],[21.42,0.1],[21.43,0.18],[21.44,0.07],[21.45,0.25],[21.46,-0.06],[21.47,0.14],[21.48,0.2],[21.49,0.09],[21.5,0.16],
[21.51,0.3],[21.52,0.05],[21.53,0.13],[21.54,0.21],[21.55,-0.02],[21.56,0.16],[21.57,0.1],[21.58,0.35],[21.59,0.18],[21.6,0.07],[21.61,0.24],[21.62,0.12],[21.63,-0.1],[21.64,0.19],[21.65,0.04],[21.66,0.28],[21.67,0.14],[21.68,0.22],[21.69,0.08],[21.7,0.4],[21.71,0.16],[21.72,-0.05],[21.73,0.2],[21.74,0.11],[21.75,0.3],[21.76,0.15],[21.77,0.02],[21.78,0.23],[21.79,0.17],[21.8,0.45],[21.81,0.09],[21.82,0.19],[21.83,-0.15],[21.84,0.26],[21.85,0.13],[21.86,0.05],[21.87,0.21],[21.88,0.38],[21.89,0.15],[21.9,0.1],[21.91,0.28],[21.92,-0.08],[21.93,0.18],[21.94,0.5],[21.95,0.23],[21.96,0.12],[21.97,0.0],[21.98,0.32],[21.99,0.17],
[22.0,0.2],[22.01,0.08],[22.02,0.42],[22.03,0.15],[22.04,0.25],[22.05,-0.12],[22.06,0.18],[22.07,0.3],[22.08,0.05],[22.09,0.22],[22.1,0.55],[22.11,0.12],[22.12,0.28],[22.13,0.17],[22.14,-0.05],[22.15,0.35],[22.16,0.2],[22.17,0.1],[22.18,0.48],[22.19,0.24],[22.2,0.02],[22.21,0.16],[22.22,0.38],[22.23,0.21],[22.24,0.08],[22.25,0.6],[22.26,0.26],[22.27,0.13],[22.28,-0.1],[22.29,0.32],[22.3,0.18],[22.31,0.45],[22.32,0.1],[22.33,0.22],[22.34,0.28],[22.35,0.0],[22.36,0.15],[22.37,0.52],[22.38,0.2],[22.39,0.08],[22.4,0.35],[22.41,0.25],[22.42,-0.15],[22.43,0.12],[22.44,0.4],[22.45,0.18],[22.46,0.05],[22.47,0.3],[22.48,0.22],[22.49,-0.05],
[22.5,0.15],[22.51,0.3],[22.52,-0.1],[22.53,0.2],[22.54,0.08],[22.55,0.45],[22.56,0.12],[22.57,-0.2],[22.58,0.25],[22.59,0.05],[22.6,0.18],[22.61,-0.05],[22.62,0.35],[22.63,0.1],[22.64,-0.15],[22.65,0.22],[22.66,0.02],[22.67,0.15],[22.68,0.5],[22.69,-0.1],[22.7,0.2],[22.71,0.08],[22.72,0.3],[22.73,-0.2],[22.74,0.12],[22.75,0.25],[22.76,0.0],[22.77,0.18],[22.78,-0.12],[22.79,0.4],[22.8,0.1],[22.81,0.22],[22.82,-0.25],[22.83,0.15],[22.84,0.05],[22.85,0.3],[22.86,-0.08],[22.87,0.18],[22.88,0.45],[22.89,0.0],[22.9,0.12],[22.91,-0.18],[22.92,0.25],[22.93,0.08],[22.94,0.5],[22.95,-0.05],[22.96,0.2],[22.97,0.35],[22.98,-0.12],[23.0,0.1],[23.02,0.2],[23.05,-0.08],
[21.05,0.12],[21.15,0.13],[21.25,0.14],[21.35,0.14],[21.45,0.15],[21.55,0.16],[21.65,0.16],[21.75,0.18],[21.85,0.18],[21.95,0.19],[22.05,0.2],[22.15,0.21],[22.25,0.19],[22.35,0.2],[22.45,0.17],[22.55,0.16],[22.65,0.12],[22.75,0.1],[22.85,0.12],[22.95,0.1],[21.1,0.42],[21.3,0.45],[21.55,0.48],[21.75,0.55],[21.9,0.6],[22.15,0.65],[22.3,0.6],[22.45,0.55],[22.65,0.6],[22.85,0.5],[22.5,-0.3],[22.6,-0.25],[22.7,-0.32],[22.85,-0.3],[22.95,-0.25],[22.4,-0.22],[22.2,-0.2],[21.95,-0.18],[21.7,-0.2],[21.45,-0.12],[21.2,-0.08],[23.05,0.3],[23.1,0.35],[23.08,0.05],[23.15,0.1],[23.2,0.22],[23.22,0.4],[23.25,0.0],[23.28,0.1],
[21.03,0.13],[21.07,0.2],[21.11,0.1],[21.13,0.18],[21.17,0.06],[21.21,0.14],[21.23,0.21],[21.27,0.1],[21.29,0.18],[21.33,0.24],[21.37,0.09],[21.39,0.15],[21.41,0.22],[21.43,0.05],[21.47,0.17],[21.49,0.27],[21.53,0.18],[21.57,0.24],[21.59,0.11],[21.61,0.2],[21.63,0.3],[21.67,0.07],[21.69,0.17],[21.71,0.25],[21.73,0.13],[21.77,0.2],[21.79,0.33],[21.81,0.14],[21.83,0.24],[21.87,0.1],[21.89,0.27],[21.91,0.19],[21.93,0.35],[21.97,0.22],[21.99,0.08],[22.01,0.28],[22.03,0.18],[22.07,0.12],[22.09,0.33],[22.11,0.2],[22.13,0.4],[22.17,0.25],[22.19,0.14],[22.21,0.3],[22.23,0.45],[22.27,0.2],[22.29,0.1],[22.31,0.28],[22.33,0.36],[22.37,0.24],[22.39,0.14],[22.41,0.42],[22.43,0.26],[22.47,0.12],[22.49,0.3],[22.51,0.2],[22.53,0.02],[22.57,0.28],[22.59,0.15],[22.61,0.22],[22.63,0.35],[22.67,0.1],[22.69,0.25],[22.71,0.17],[22.73,0.05],[22.77,0.28],[22.79,0.15],[22.81,0.0],[22.83,0.22],[22.87,0.08],[22.89,0.3],[22.91,0.15],[22.93,-0.05],[22.97,0.18],[22.99,0.05],[23.02,0.12],[23.04,0.25]];
const mmrc_out = [[20.02,2.42],[22.88,2.18],[22.76,2.06],[23.54,2.14],[23.16,1.91],[23.91,1.98],[22.37,1.83],[22.51,1.88],[22.81,1.89],[23.67,1.76],[23.34,1.71],[22.38,1.68],[22.43,1.62],[22.50,1.64],[22.80,1.53],[22.37,1.51],[21.96,1.51],[21.98,1.46],[22.42,1.45],[22.55,1.45],[23.36,1.45],[23.50,1.51],[23.25,1.40],[21.78,1.40],[21.68,1.34],[22.42,1.34],[23.03,1.29],[22.07,1.28],[21.62,1.25],[22.46,1.21],[21.50,1.16],[23.11,1.15],[23.55,1.15],[22.36,1.09],[21.73,1.08],[22.55,1.05],[23.91,1.03],[23.98,1.01],[21.58,0.97],[22.02,0.96],[20.98,0.95],[21.38,0.90],[23.17,0.89],[23.72,0.87],[22.74,0.93],[21.51,0.84],[21.32,0.77],[21.19,0.79],[23.00,0.84],[22.51,0.83],[22.26,0.84],[21.88,0.78],[21.16,0.71],[21.14,0.66],[21.60,0.73],[20.85,0.66],[20.90,0.67],[23.87,0.63],[22.42,0.78],[22.46,0.76],[22.55,0.70],[22.70,0.75],[21.16,0.56],[21.09,0.58],[20.79,0.57],[19.78,0.60],[20.51,0.59],[21.38,0.64],[21.43,0.65],[21.74,0.61],[21.66,0.57],[20.39,0.50],[20.94,0.46],[21.06,0.45],[20.71,0.45],[20.29,0.40],[19.97,0.42],[20.63,0.37],[20.58,0.30],[21.43,0.45],[21.46,0.42],[21.51,0.44],[23.46,0.44],[23.38,0.41],[23.19,0.36],[23.16,0.31],[23.20,0.33],[19.43,0.31],[19.58,0.31],[19.72,0.36],[19.29,0.10],[23.66,0.19],[23.55,0.14],[23.39,0.18],[23.01,0.58],[22.94,0.55],[22.98,0.60],
[19.73,-0.04],[20.86,-0.14],[21.00,-0.34],[21.30,-0.40],[20.72,-0.05],[21.33,-0.03],[21.65,-0.15],[21.68,-0.34],[21.79,-0.39],[21.84,-0.21],[21.92,-0.22],[22.00,-0.29],[22.19,-0.42],[22.13,-0.52],[22.33,-0.72],[22.34,-0.82],[22.49,-0.78],[22.63,-0.52],[22.82,-0.46],[22.71,-0.28],[22.81,-0.21],[22.88,-0.29],[22.94,-0.30],[23.02,-0.36],[23.08,-0.39],[23.02,-0.26],[23.04,-0.30],[23.13,-0.39],[23.22,-0.44],[23.29,-0.39],[23.31,-0.29],[23.31,-0.18],[23.13,-0.74],[23.20,-0.79],[23.25,-0.82],[23.31,-0.77],[23.41,-0.77],[23.52,-0.77],[23.33,-0.96],[23.19,-1.13],[23.33,-1.32],[23.63,-0.55],[23.76,-0.59]];

const panels = [
  [].concat(median_bright, median_mid, median_faint, median_out),
  [].concat(ksigma_bright, ksigma_mid, ksigma_faint, ksigma_out),
  [].concat(mmrc_bright, mmrc_mid, mmrc_faint, mmrc_out)
];

// ---------- layout (pixel geometry) ----------
const W = 662, H = 1401;
const plotLeft = 58, plotRight = 652;
const tops = [33, 503, 973], bottoms = [422, 892, 1361];
const FONT = '"Liberation Sans", Arial, Helvetica, sans-serif';
const py = p => 1 - p / H;
const px = p => p / W;

const traces = [], annotations = [], shapes = [];
const layout = {
  width: W, height: H, margin: {l:0, r:0, t:0, b:0},
  paper_bgcolor: '#fff', plot_bgcolor: '#fff', showlegend: false,
  font: {family: FONT, size: 12, color: '#000'}
};

panels.forEach((pts, i) => {
  const n = i === 0 ? '' : String(i + 1);
  traces.push({
    type: 'scatter', mode: 'markers',
    x: pts.map(p => p[0]), y: pts.map(p => p[1]),
    xaxis: 'x' + n, yaxis: 'y' + n,
    marker: {symbol: 'square', size: 2.4, color: '#000', line: {width: 0}},
    hoverinfo: 'skip'
  });
  const axCommon = {
    showgrid: false, zeroline: false, showline: true, linecolor: '#000', linewidth: 1.5,
    mirror: 'allticks', ticks: 'inside', ticklen: 5, tickwidth: 1, tickcolor: '#000',
    tickfont: {family: FONT, size: 12.5, color: '#000'}, fixedrange: true
  };
  layout['xaxis' + n] = Object.assign({}, axCommon, {
    domain: [px(plotLeft), px(plotRight)], range: [15, 24],
    tickvals: xTickVals, anchor: 'y' + n
  });
  layout['yaxis' + n] = Object.assign({}, axCommon, {
    domain: [py(bottoms[i]), py(tops[i])], range: [-2.5, 2.5],
    tickvals: yTickVals, ticktext: yTickText, anchor: 'x' + n
  });
  shapes.push({
    type: 'line', xref: 'x' + n, yref: 'y' + n, x0: 15, x1: 24, y0: 0, y1: 0,
    line: {color: '#3be03b', width: 1.4, dash: '4px,3px'}, layer: 'below'
  });
  const cx = px((plotLeft + plotRight) / 2);
  annotations.push({
    text: titles[i], xref: 'paper', yref: 'paper', x: cx, y: py(tops[i] - 18),
    xanchor: 'center', yanchor: 'middle', showarrow: false,
    font: {family: FONT, size: 13, color: '#000'}
  });
  annotations.push({
    text: 'MAG', xref: 'paper', yref: 'paper', x: cx, y: py(bottoms[i] + 31),
    xanchor: 'center', yanchor: 'middle', showarrow: false,
    font: {family: FONT, size: 12.5, color: '#000'}
  });
  annotations.push({
    text: 'MAGAUTO<sub>sky,back</sub> -MAGAUTO<sub>field</sub>',
    xref: 'paper', yref: 'paper', x: px(20), y: py((tops[i] + bottoms[i]) / 2),
    xanchor: 'center', yanchor: 'middle', showarrow: false, textangle: -90,
    font: {family: FONT, size: 13.5, color: '#000'}
  });
});
layout.annotations = annotations;
layout.shapes = shapes;

Plotly.newPlot('c', traces, layout, {staticPlot: true, displayModeBar: false});
</script>
</body></html>
